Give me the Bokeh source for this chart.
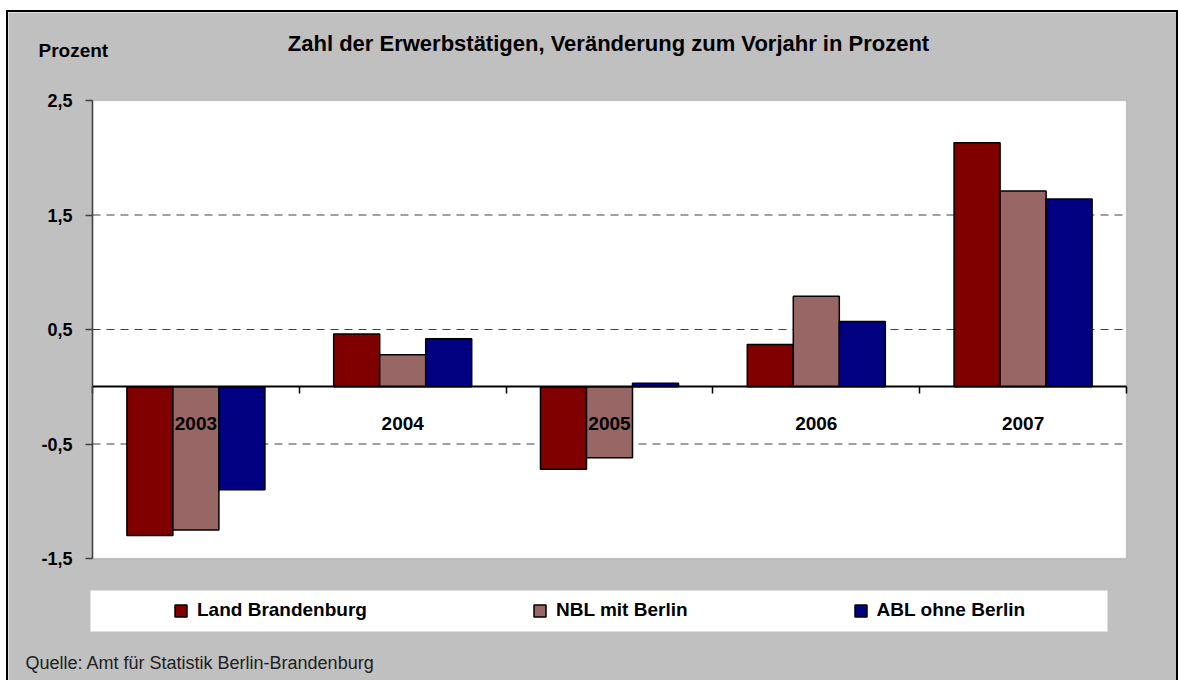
from bokeh.plotting import figure
from bokeh.layouts import column
from bokeh.models import (Range1d, FixedTicker, Legend, LegendItem, Label,
                          LinearAxis, BoxAnnotation, ColumnDataSource)
from bokeh.transform import dodge
from bokeh.embed import file_html
from bokeh.resources import INLINE

# ---------------- data ----------------
years = ["2003", "2004", "2005", "2006", "2007"]
land_brandenburg = [-1.30, 0.46, -0.72, 0.37, 2.13]
nbl_mit_berlin = [-1.25, 0.28, -0.62, 0.79, 1.71]
abl_ohne_berlin = [-0.90, 0.42, 0.03, 0.57, 1.64]
series_names = ["Land Brandenburg", "NBL mit Berlin", "ABL ohne Berlin"]
series_colors = ["#800000", "#996666", "#000080"]
y_ticks = [-1.5, -0.5, 0.5, 1.5, 2.5]
y_tick_labels = ["-1,5", "-0,5", "0,5", "1,5", "2,5"]
grid_values = [-0.5, 0.5, 1.5]
title_text = "Zahl der Erwerbstätigen, Veränderung zum Vorjahr in Prozent"
unit_text = "Prozent"
source_text = "Quelle: Amt für Statistik Berlin-Brandenburg"

FONT = "Liberation Sans"
GRAY = "#C0C0C0"

# ---------------- layout constants (pixels) ----------------
CANVAS_W, CANVAS_H = 1168, 668
AREA_LEFT, AREA_RIGHT = 84, 50        # padding around the plot area
AREA_TOP, AREA_BOTTOM = 88, 122
AREA_W = CANVAS_W - AREA_LEFT - AREA_RIGHT
AREA_H = CANVAS_H - AREA_TOP - AREA_BOTTOM

n_cat = len(years)
y_lo, y_hi = y_ticks[0], y_ticks[-1]
px_x = AREA_W / n_cat
px_y = AREA_H / (y_hi - y_lo)

centers = [i + 0.5 for i in range(n_cat)]
edges = [float(i) for i in range(n_cat + 1)]

src = ColumnDataSource(dict(xc=centers, year=years, lb=land_brandenburg,
                            nbl=nbl_mit_berlin, abl=abl_ohne_berlin))

p = figure(x_range=Range1d(-AREA_LEFT / px_x, n_cat + AREA_RIGHT / px_x),
           y_range=Range1d(y_lo - AREA_BOTTOM / px_y, y_hi + AREA_TOP / px_y),
           frame_width=CANVAS_W, frame_height=CANVAS_H, min_border=0,
           x_axis_location=None, y_axis_location=None,
           output_backend="svg", toolbar_location=None,
           border_fill_color=GRAY, background_fill_color=GRAY,
           outline_line_color=None)
p.xgrid.visible = False
p.ygrid.visible = False

# plot area
p.add_layout(BoxAnnotation(left=edges[0], right=edges[-1], bottom=y_lo, top=y_hi,
                           fill_color="white", fill_alpha=1,
                           line_color="#808080", line_width=1.5, level="underlay"))

# dashed grid lines limited to the plot area (drawn before the bars)
p.segment(x0=[edges[0]] * len(grid_values), x1=[edges[-1]] * len(grid_values),
          y0=grid_values, y1=grid_values, line_color="#404040",
          line_dash="8 6", line_width=1)

# ---------------- bars ----------------
bw = 0.2225
offsets = [-bw, 0.0, bw]
renderers = []
for key, color, off in zip(["lb", "nbl", "abl"], series_colors, offsets):
    r = p.vbar(x=dodge("xc", off), top=key, bottom=0, width=bw,
               source=src, fill_color=color, line_color="black", line_width=1.5)
    renderers.append(r)

# ---------------- axes ----------------
xa = LinearAxis(fixed_location=0, bounds=(edges[0], edges[-1]),
                ticker=FixedTicker(ticks=centers, minor_ticks=edges),
                major_label_overrides=dict(zip(centers, years)),
                axis_line_color="black", axis_line_width=2,
                major_tick_line_color=None, major_tick_out=0, major_tick_in=0,
                minor_tick_line_color="black", minor_tick_line_width=1.5,
                minor_tick_out=7, minor_tick_in=0,
                major_label_standoff=23, major_label_text_font=FONT,
                major_label_text_font_size="19px", major_label_text_font_style="bold",
                major_label_text_color="black")
p.add_layout(xa, "below")

ya = LinearAxis(fixed_location=edges[0], bounds=(y_lo, y_hi),
                ticker=FixedTicker(ticks=y_ticks, minor_ticks=[]),
                major_label_overrides=dict(zip(y_ticks, y_tick_labels)),
                axis_line_color="#404040", axis_line_width=1.5,
                major_tick_line_color="#404040", major_tick_line_width=1.5,
                major_tick_out=7, major_tick_in=0, minor_tick_line_color=None,
                major_label_standoff=13, major_label_text_font=FONT,
                major_label_text_font_size="18px", major_label_text_font_style="bold",
                major_label_text_color="black")
p.add_layout(ya, "left")

# ---------------- texts ----------------
p.add_layout(Label(x=600, y=637, x_units="screen", y_units="screen",
                   text=title_text, text_font=FONT, text_font_size="22px",
                   text_font_style="bold", text_align="center", text_baseline="middle",
                   text_color="black"))
p.add_layout(Label(x=30, y=630, x_units="screen", y_units="screen",
                   text=unit_text, text_font=FONT, text_font_size="19px",
                   text_font_style="bold", text_align="left", text_baseline="middle",
                   text_color="black"))
p.add_layout(Label(x=17, y=18, x_units="screen", y_units="screen",
                   text=source_text, text_font=FONT, text_font_size="18px",
                   text_align="left", text_baseline="middle", text_color="#202020"))

# ---------------- legend ----------------
p.add_layout(BoxAnnotation(left=82, right=1099, bottom=49, top=90,
                           left_units="screen", right_units="screen",
                           bottom_units="screen", top_units="screen",
                           fill_color="white", fill_alpha=1, line_color=None,
                           level="underlay"))
legend = Legend(items=[LegendItem(label=n, renderers=[r]) for n, r in zip(series_names, renderers)],
                orientation="horizontal", location=(165, 59),
                background_fill_alpha=0, border_line_color=None,
                padding=0, margin=0, spacing=165,
                glyph_width=15, glyph_height=15, label_standoff=9,
                label_text_font=FONT, label_text_font_size="19px",
                label_text_font_style="bold", label_height=20,
                label_text_color="black")
p.add_layout(legend, "center")

layout = column(p, styles={"margin-left": "6px", "margin-top": "10px",
                           "border-left": "2px solid black", "border-top": "2px solid black",
                           "border-right": "2px solid black"})

open("out.html", "w").write(file_html(layout, INLINE))
